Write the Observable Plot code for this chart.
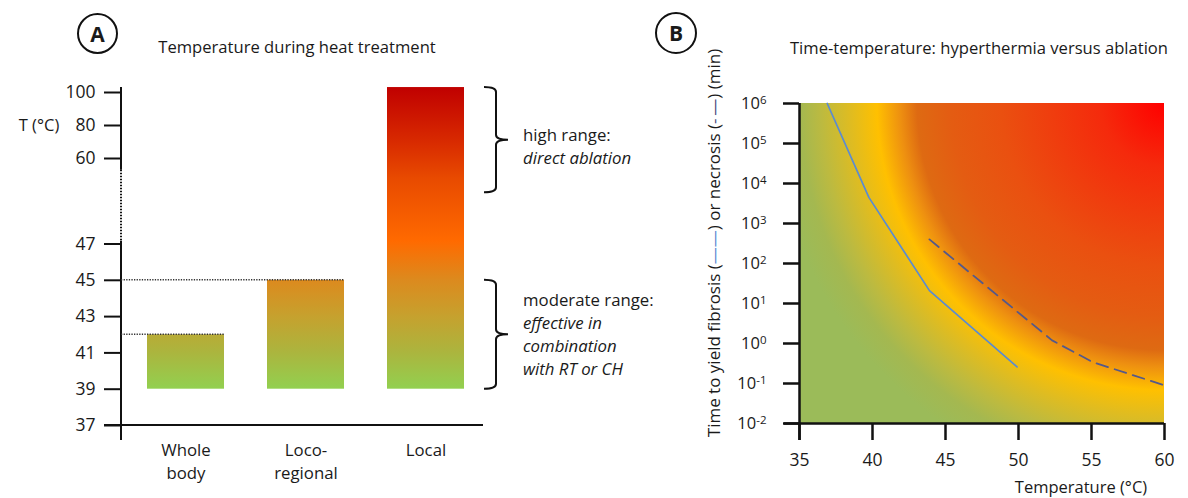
<!DOCTYPE html>
<html><head><meta charset="utf-8">
<script src="https://cdn.jsdelivr.net/npm/d3@7"></script>
<script src="https://cdn.jsdelivr.net/npm/@observablehq/plot@0.6"></script>
<style>
html,body{margin:0;padding:0;background:#fff;}
#root{position:relative;width:1188px;height:498px;overflow:hidden;font-family:"Open Sans",sans-serif;color:#1a1a1a;}
#root svg{position:absolute;top:0;}
.ttl{position:absolute;font-size:16.6px;line-height:20px;text-align:center;white-space:nowrap;}
.circ{position:absolute;box-sizing:border-box;border:2.5px solid #111;border-radius:50%;font-weight:bold;font-size:21px;display:flex;align-items:center;justify-content:center;}
</style></head><body><div id="root"></div>
<script>
// ---------- Panel A data ----------
const categories = ["Whole body", "Loco-regional", "Local"];
const categoryLabels = ["Whole\nbody", "Loco-\nregional", "Local"];
const barBottom = [39, 39, 39];
const barTop = [42, 45, 103];
const yTicksA = [37, 39, 41, 43, 45, 47, 60, 80, 100];
const yAnchorValues = [37, 47, 60, 100];          // broken (piecewise) temperature axis
const axisBreak = [58.2, 47.4];                   // dotted part of the T axis
const dottedLevels = [45, 42];
const dottedUntil = ["Loco-regional", "Whole body"];
const highRange = [103, 54.8];
const moderateRange = [45, 39];
const highText = ["high range:", "direct ablation"];
const moderateText = ["moderate range:", "effective in", "combination", "with RT or CH"];
const barGradTemps = [39, 41, 43, 45, 47.4, 57, 70, 103];
const barGradColors = ["#92d050", "#abb53e", "#c6a12e", "#dc8a1e", "#ff6a00", "#e84a00", "#d82a00", "#c00000"];

// ---------- Panel B data ----------
const tempTicks = [35, 40, 45, 50, 55, 60];
const timeExponents = [-2, -1, 0, 1, 2, 3, 4, 5, 6];
const timeTicks = timeExponents.map(e => Math.pow(10, e));
const fibrosisT = [36.9, 39.75, 43.9, 49.9];
const fibrosisTime = [1e6, 4500, 21, 0.26];
const necrosisT = [43.9, 52.3, 55.1, 60];
const necrosisTime = [400, 1.2, 0.34, 0.09];
const heatOffsets = [0, 0.1575, 0.4075, 0.5325, 0.6175, 0.66, 0.7175, 0.7825, 0.8575, 0.91, 0.975];
const heatColors = ["#ff0000", "#f52a0c", "#ea5010", "#e45c12", "#de6a12", "#ee9010", "#ffc000", "#e0bc20", "#bcba40", "#a4b850", "#9bbb59"];

const root = document.getElementById("root");

// ---------- Panel A ----------
const barData = categories.map((c, i) => ({category: c, low: barBottom[i], high: barTop[i]}));

function bracePath(x0, xs, xt, ya, yb) {
  const ym = (ya + yb) / 2, r = 5;
  return `M${x0},${ya} Q${xs},${ya} ${xs},${ya + r} L${xs},${ym - r} Q${xs},${ym} ${xt},${ym} Q${xs},${ym} ${xs},${ym + r} L${xs},${yb - r} Q${xs},${yb} ${x0},${yb}`;
}

function overlayA(index, scales, values, dims) {
  const x = scales.x, y = scales.y;
  const left = dims.marginLeft, right = dims.width - dims.marginRight;
  const bw = x.bandwidth ? x.bandwidth() : 0;
  const g = d3.create("svg:g");
  const y0 = y(barGradTemps[0]), y1 = y(barGradTemps[barGradTemps.length - 1]);
  const lg = g.append("defs").append("linearGradient").attr("id", "gradA")
    .attr("gradientUnits", "userSpaceOnUse").attr("x1", 0).attr("x2", 0).attr("y1", y0).attr("y2", y1);
  barGradTemps.forEach((t, i) => lg.append("stop").attr("offset", (y0 - y(t)) / (y0 - y1)).attr("stop-color", barGradColors[i]));
  // broken y axis line
  const ax = g.append("g").attr("stroke", "#111").attr("fill", "none");
  ax.append("line").attr("x1", left).attr("x2", left).attr("y1", y(barTop[2])).attr("y2", y(axisBreak[0])).attr("stroke-width", 2);
  ax.append("line").attr("x1", left).attr("x2", left).attr("y1", y(axisBreak[0])).attr("y2", y(axisBreak[1])).attr("stroke-width", 2).attr("stroke-dasharray", "1.5,1.5");
  ax.append("line").attr("x1", left).attr("x2", left).attr("y1", y(axisBreak[1])).attr("y2", y(yTicksA[0]) + 15).attr("stroke-width", 2);
  // x axis line
  ax.append("line").attr("x1", left - 17).attr("x2", right).attr("y1", y(yTicksA[0])).attr("y2", y(yTicksA[0])).attr("stroke-width", 2);
  // dotted level lines
  dottedLevels.forEach((v, i) => {
    ax.append("line").attr("x1", left).attr("x2", x(dottedUntil[i]) + bw).attr("y1", y(v)).attr("y2", y(v))
      .attr("stroke", "#333").attr("stroke-width", 1.6).attr("stroke-dasharray", "1.3,1.3");
  });
  // braces
  [[highRange, highText, 7], [moderateRange, moderateText, 0]].forEach(([rng, lines, shift]) => {
    const ya = y(rng[0]), yb = y(rng[1]);
    g.append("path").attr("d", bracePath(right + 1, right + 13, right + 25, ya, yb))
      .attr("fill", "none").attr("stroke", "#111").attr("stroke-width", 2);
    const ym = (ya + yb) / 2;
    lines.forEach((s, j) => {
      g.append("text").attr("x", right + 40).attr("y", ym + (j - (lines.length - 1) / 2) * 23 + shift)
        .attr("dy", "0.35em").attr("font-size", 16.8).attr("fill", "#1a1a1a").attr("text-anchor", "start")
        .attr("font-style", j === 0 ? "normal" : "italic").text(s);
    });
  });
  // axis label
  g.append("text").attr("x", left - 82).attr("y", y(80)).attr("dy", "0.35em").attr("text-anchor", "middle")
    .attr("font-size", 16.5).attr("fill", "#1a1a1a").text("T (\u00B0C)");
  return g.node();
}

const plotA = Plot.plot({
  width: 600, height: 498,
  marginLeft: 121, marginRight: 117, marginTop: 87, marginBottom: 73,
  style: {fontFamily: "Open Sans", fontSize: "16px", color: "#1a1a1a", background: "transparent", overflow: "visible"},
  x: {type: "band", domain: categories, range: [121, 489], paddingInner: 0.36, paddingOuter: 0.21},
  y: {type: "linear", domain: yAnchorValues, range: [425, 243.5, 158, 92]},
  marks: [
    Plot.barY(barData, {x: "category", y1: "low", y2: "high", fill: "url(#gradA)"}),
    overlayA,
    Plot.axisY({ticks: yTicksA, tickSize: 17, tickPadding: 9, fontSize: 17.5, strokeWidth: 2, stroke: "#111", label: null, tickFormat: d => String(d)}),
    Plot.axisX({tickSize: 0, tickPadding: 14, fontSize: 16.8, lineHeight: 1.37, label: null,
      tickFormat: d => categoryLabels[categories.indexOf(d)]})
  ]
});
plotA.style.left = "0px";
root.appendChild(plotA);

// ---------- Panel B ----------
const heatArea = [{T1: tempTicks[0], T2: tempTicks[tempTicks.length - 1], t1: timeTicks[0], t2: timeTicks[timeTicks.length - 1]}];
const fibrosis = fibrosisT.map((T, i) => ({T, t: fibrosisTime[i]}));
const necrosis = necrosisT.map((T, i) => ({T, t: necrosisTime[i]}));

function overlayB(index, scales, values, dims) {
  const x = scales.x, y = scales.y;
  const left = dims.marginLeft, right = dims.width - dims.marginRight;
  const g = d3.create("svg:g");
  const rg = g.append("defs").append("radialGradient").attr("id", "heatB")
    .attr("gradientUnits", "userSpaceOnUse")
    .attr("cx", x(tempTicks[tempTicks.length - 1])).attr("cy", y(timeTicks[timeTicks.length - 1])).attr("r", 400);
  heatOffsets.forEach((o, i) => rg.append("stop").attr("offset", o).attr("stop-color", heatColors[i]));
  // y label with line glyphs
  const t = g.append("text").attr("transform", `translate(${left - 79},${(y(1e6) + y(1e-2)) / 2 - 20}) rotate(-90)`)
    .attr("text-anchor", "middle").attr("font-size", 17).attr("fill", "#1a1a1a");
  t.append("tspan").text("Time to yield fibrosis (");
  t.append("tspan").attr("fill", "#5b8bd1").text("\u2014\u2014");
  t.append("tspan").text(") or necrosis (");
  t.append("tspan").attr("fill", "#4a4f80").text("-\u2009\u2014");
  t.append("tspan").text(") (min)");
  // x label
  g.append("text").attr("x", right - 83).attr("y", y(1e-2) + 64).attr("dy", "0.35em").attr("text-anchor", "middle")
    .attr("font-size", 16.5).attr("fill", "#1a1a1a").text("Temperature (\u00B0C)");
  return g.node();
}

const plotB = Plot.plot({
  width: 588, height: 498,
  marginLeft: 199, marginRight: 24, marginTop: 103, marginBottom: 75,
  style: {fontFamily: "Open Sans", fontSize: "16px", color: "#1a1a1a", background: "transparent", overflow: "visible"},
  x: {type: "linear", domain: [tempTicks[0], tempTicks[tempTicks.length - 1]]},
  y: {type: "log", domain: [timeTicks[0], timeTicks[timeTicks.length - 1]]},
  marks: [
    Plot.rect(heatArea, {x1: "T1", x2: "T2", y1: "t1", y2: "t2", fill: "url(#heatB)"}),
    overlayB,
    Plot.line(fibrosis, {x: "T", y: "t", stroke: "#5b8bd1", strokeWidth: 1.7}),
    Plot.line(necrosis, {x: "T", y: "t", stroke: "#55598a", strokeWidth: 1.8, strokeDasharray: "12,7"}),
    Plot.ruleY([timeTicks[0]], {stroke: "#111", strokeWidth: 2.5, insetLeft: -15}),
    Plot.ruleX([tempTicks[0]], {stroke: "#111", strokeWidth: 2.5, insetBottom: -17}),
    Plot.axisX({ticks: tempTicks, tickSize: 17, tickPadding: 13, fontSize: 17.5, strokeWidth: 2.5, stroke: "#111", label: null}),
    Plot.axisY({ticks: timeTicks, tickSize: 16, tickPadding: 17, fontSize: 16.5, strokeWidth: 2.5, stroke: "#111", label: null,
      tickFormat: d => "10"})
  ]
});
plotB.style.left = "600px";
root.appendChild(plotB);

// superscript exponents on the log-axis tick labels
d3.select(plotB).selectAll('g[aria-label="y-axis tick label"] text').each(function(d, i) {
  const el = d3.select(this);
  el.text("");
  el.append("tspan").text("10");
  el.append("tspan").attr("font-size", 11.5).attr("dy", "-0.45em").text(String(timeExponents[i]));
});

// ---------- titles and panel letters ----------
function addDiv(cls, text, css) {
  const d = document.createElement("div");
  d.className = cls; d.textContent = text; Object.assign(d.style, css); root.appendChild(d);
}
addDiv("ttl", "Temperature during heat treatment", {left: "147px", width: "300px", top: "37px"});
addDiv("ttl", "Time-temperature: hyperthermia versus ablation", {left: "779px", width: "400px", top: "38px"});
addDiv("circ", "A", {left: "77px", top: "13px", width: "41px", height: "41px"});
addDiv("circ", "B", {left: "655px", top: "12px", width: "42px", height: "42px"});
</script></body></html>
